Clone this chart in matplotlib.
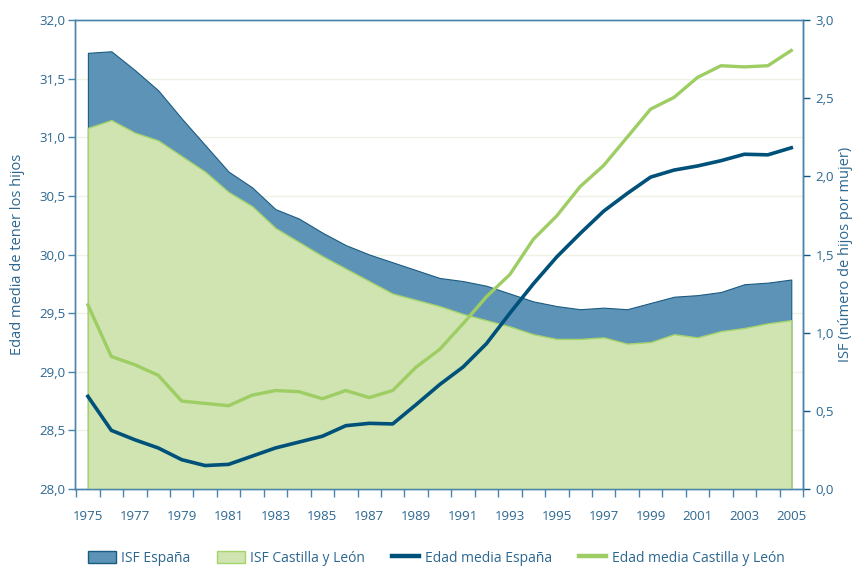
import matplotlib
matplotlib.use("Agg")
import matplotlib.pyplot as plt
from matplotlib.ticker import FuncFormatter, MultipleLocator, FixedLocator
from matplotlib.transforms import blended_transform_factory
from matplotlib.patches import Patch
from matplotlib.lines import Line2D

plt.rcParams['font.family'] = ['Open Sans', 'DejaVu Sans']

years = list(range(1975, 2006))

# ISF (numero de hijos por mujer) -> eje derecho
isf_espana = [2.79, 2.80, 2.68, 2.55, 2.37, 2.20, 2.03, 1.93, 1.79, 1.73,
              1.64, 1.56, 1.50, 1.45, 1.40, 1.35, 1.33, 1.30, 1.25, 1.20,
              1.17, 1.15, 1.16, 1.15, 1.19, 1.23, 1.24, 1.26, 1.31, 1.32, 1.34]
isf_cyl = [2.31, 2.36, 2.28, 2.23, 2.13, 2.03, 1.90, 1.81, 1.67, 1.58,
           1.49, 1.41, 1.33, 1.25, 1.21, 1.17, 1.12, 1.08, 1.04, 0.99,
           0.96, 0.96, 0.97, 0.93, 0.94, 0.99, 0.97, 1.01, 1.03, 1.06, 1.08]

# edad media de tener los hijos -> eje izquierdo
edad_espana = [28.79, 28.50, 28.42, 28.35, 28.25, 28.20, 28.21, 28.28, 28.35, 28.40,
               28.45, 28.54, 28.56, 28.555, 28.72, 28.89, 29.04, 29.24, 29.50, 29.75,
               29.98, 30.18, 30.37, 30.52, 30.66, 30.72, 30.755, 30.80, 30.855, 30.85, 30.91]
edad_cyl = [29.57, 29.13, 29.06, 28.97, 28.75, 28.73, 28.71, 28.80, 28.84, 28.83,
            28.77, 28.84, 28.78, 28.84, 29.04, 29.19, 29.41, 29.64, 29.83, 30.13,
            30.33, 30.58, 30.76, 31.00, 31.24, 31.34, 31.51, 31.61, 31.60, 31.61, 31.74]

left_ticks = [28.0, 28.5, 29.0, 29.5, 30.0, 30.5, 31.0, 31.5, 32.0]

c_esp_fill = '#5d93b7'
c_esp_edge = '#1b5b82'
c_cyl_fill = '#cfe4b0'
c_cyl_edge = '#a5d36c'
c_line_esp = '#00517a'
c_line_cyl = '#9dcd63'
c_axis = '#4a84ad'
c_text = '#2c6790'

fig = plt.figure(figsize=(8.59, 5.66), dpi=100)
ax = fig.add_axes([75 / 859, 1 - 489 / 566, 728 / 859, 469 / 566])
ax2 = ax.twinx()

comma = FuncFormatter(lambda v, p: f'{v:.1f}'.replace('.', ','))

# areas (ISF) en el eje derecho
ax2.fill_between(years, 0, isf_espana, facecolor=c_esp_fill, edgecolor=c_esp_edge,
                 linewidth=0.8, zorder=2)
ax2.fill_between(years, 0, isf_cyl, facecolor=c_cyl_fill, edgecolor=c_cyl_edge,
                 linewidth=1.0, zorder=3)
trans = blended_transform_factory(ax2.transAxes, ax.transData)
for v in left_ticks[1:-1]:
    ax2.plot([0, 1], [v, v], transform=trans, color='#eef3e3', lw=1.0, zorder=1)

# lineas (edad media) en el eje izquierdo, dibujado encima
ax.set_zorder(ax2.get_zorder() + 1)
ax.patch.set_visible(False)
ax.plot(years, edad_espana, color=c_line_esp, lw=2.6, solid_joinstyle='round', zorder=4)
ax.plot(years, edad_cyl, color=c_line_cyl, lw=2.4, solid_joinstyle='round', zorder=4)

ax.set_xlim(1974.45, 2005.45)
ax.set_ylim(28, 32)
ax2.set_ylim(0, 3)

ax.yaxis.set_major_locator(FixedLocator(left_ticks))
ax.yaxis.set_major_formatter(comma)
ax2.yaxis.set_major_locator(MultipleLocator(0.5))
ax2.yaxis.set_major_formatter(comma)

ax.set_xticks(years[::2])
ax.set_xticks([y - 0.5 for y in years] + [2005.5], minor=True)
ax.tick_params(axis='x', which='major', length=0, pad=15, labelsize=9.5, labelcolor=c_text)
ax.tick_params(axis='x', which='minor', length=6, color=c_axis, width=1)
ax.tick_params(axis='y', length=5, color=c_axis, width=1, pad=2, labelsize=9.5, labelcolor=c_text)
ax2.tick_params(axis='y', length=5, color='#0b5884', width=1, pad=4, labelsize=9.5, labelcolor=c_text)

for a in (ax, ax2):
    for s in a.spines.values():
        s.set_color(c_axis)
        s.set_linewidth(1.0)
ax2.spines['right'].set_color('#0b5884')

ax.set_ylabel('Edad media de tener los hijos', color=c_text, fontsize=10.5)
ax.yaxis.set_label_coords(-0.068, 0.5)
ax2.set_ylabel('ISF (número de hijos por mujer)', color=c_text, fontsize=10.5)
ax2.yaxis.set_label_coords(1.048, 0.5)

handles = [
    Patch(facecolor=c_esp_fill, edgecolor=c_esp_edge, linewidth=1),
    Patch(facecolor=c_cyl_fill, edgecolor=c_cyl_edge, linewidth=1),
    Line2D([], [], color=c_line_esp, lw=3.2),
    Line2D([], [], color=c_line_cyl, lw=3.2),
]
labels = ['ISF España', 'ISF Castilla y León', 'Edad media España', 'Edad media Castilla y León']
leg = fig.legend(handles, labels, loc='center', bbox_to_anchor=(0.508, 0.014), ncol=4,
                 frameon=False, fontsize=10, handlelength=2.0, handleheight=1.0,
                 columnspacing=1.9, handletextpad=0.4)
for t in leg.get_texts():
    t.set_color(c_text)

fig.savefig('out.png', dpi=100)
